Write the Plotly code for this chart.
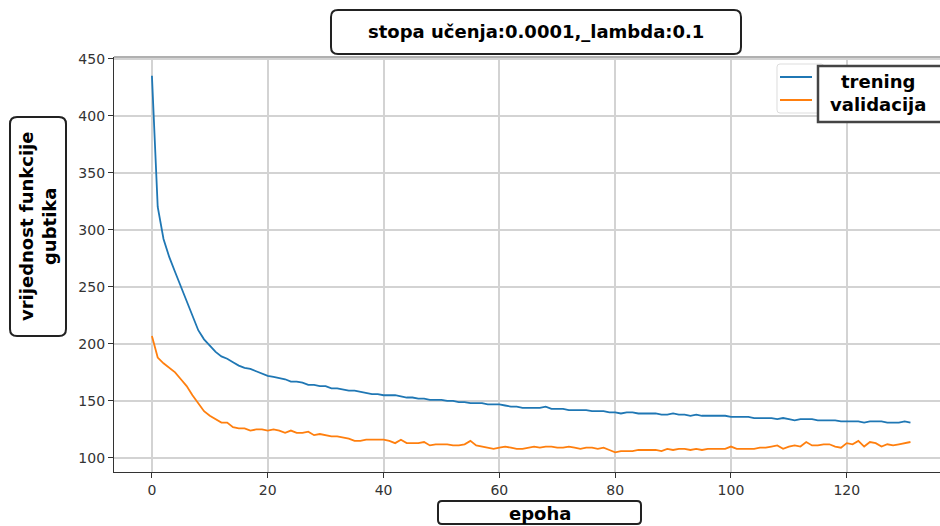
import plotly.graph_objects as go

# epohe 0..131
epoha = list(range(132))

trening = [
    435, 320, 292, 276, 263, 250, 237, 224, 212, 204,
    198, 193, 189, 187, 184, 181, 179, 178, 176, 174,
    172, 171, 170, 169, 167, 167, 166, 164, 164, 163,
    163, 161, 161, 160, 159, 159, 158, 157, 156, 156,
    155, 155, 155, 154, 153, 153, 152, 152, 151, 151,
    151, 150, 150, 149, 149, 148, 148, 148, 147, 147,
    147, 146, 145, 145, 144, 144, 144, 144, 145, 143,
    143, 143, 142, 142, 142, 142, 141, 141, 141, 140,
    140, 139, 140, 140, 139, 139, 139, 139, 138, 138,
    139, 138, 138, 137, 138, 137, 137, 137, 137, 137,
    136, 136, 136, 136, 135, 135, 135, 135, 134, 135,
    134, 133, 134, 134, 134, 133, 133, 133, 133, 132,
    132, 132, 132, 131, 132, 132, 132, 131, 131, 131,
    132, 131,
]

validacija = [
    207, 188, 183, 179, 175, 169, 163, 155, 148, 141,
    137, 134, 131, 131, 127, 126, 126, 124, 125, 125,
    124, 125, 124, 122, 124, 122, 122, 123, 120, 121,
    120, 119, 119, 118, 117, 115, 115, 116, 116, 116,
    116, 115, 113, 116, 113, 113, 113, 114, 111, 112,
    112, 112, 111, 111, 112, 115, 111, 110, 109, 108,
    109, 110, 109, 108, 108, 109, 110, 109, 110, 110,
    109, 109, 110, 109, 108, 109, 109, 108, 109, 107,
    105, 106, 106, 106, 107, 107, 107, 107, 106, 108,
    107, 108, 108, 107, 108, 107, 108, 108, 108, 108,
    110, 108, 108, 108, 108, 109, 109, 110, 111, 108,
    110, 111, 110, 114, 111, 111, 112, 112, 110, 109,
    113, 112, 115, 110, 114, 113, 110, 112, 111, 112,
    113, 114,
]

x_ticks = [0, 20, 40, 60, 80, 100, 120]
y_ticks = [100, 150, 200, 250, 300, 350, 400, 450]

naslov = "stopa učenja:0.0001,_lambda:0.1"
x_naziv = "epoha"
y_naziv = "vrijednost funkcije<br>gubtika"

W, H = 940, 526
L, R, T, B = 114, 0, 57, 54
PW, PH = W - L - R, H - T - B


def px(x):
    return (x - L) / PW


def py(y):
    return (H - B - y) / PH


def rrect(x0, y0, x1, y1, r):
    pts = [
        ("M", x0 + r, y0), ("L", x1 - r, y0), ("Q", x1, y0, x1, y0 + r),
        ("L", x1, y1 - r), ("Q", x1, y1, x1 - r, y1), ("L", x0 + r, y1),
        ("Q", x0, y1, x0, y1 - r), ("L", x0, y0 + r), ("Q", x0, y0, x0 + r, y0),
    ]
    out = []
    for p in pts:
        coords = []
        for i in range(1, len(p), 2):
            coords.append(f"{px(p[i]):.5f},{py(p[i + 1]):.5f}")
        out.append(p[0] + " " + " ".join(coords))
    return " ".join(out) + " Z"


fig = go.Figure()
fig.add_trace(go.Scatter(x=epoha, y=trening, mode="lines", name="trening",
                         line=dict(color="#1f77b4", width=1.8)))
fig.add_trace(go.Scatter(x=epoha, y=validacija, mode="lines", name="validacija",
                         line=dict(color="#ff7f0e", width=1.8)))

shapes = [
    # gornji rub
    dict(type="line", xref="paper", yref="paper", x0=0, x1=1, y0=1, y1=1,
         line=dict(color="#b0b0b0", width=2)),
    # okviri
    dict(type="path", xref="paper", yref="paper", path=rrect(331, 10, 741, 54, 7),
         fillcolor="white", line=dict(color="#222", width=2)),
    dict(type="path", xref="paper", yref="paper", path=rrect(10, 117, 66, 336, 7),
         fillcolor="white", line=dict(color="#222", width=2)),
    dict(type="path", xref="paper", yref="paper", path=rrect(438, 501, 641, 524, 4),
         fillcolor="white", line=dict(color="#222", width=2)),
    # legenda
    dict(type="path", xref="paper", yref="paper", path=rrect(777, 64, 824, 113, 3),
         fillcolor="rgba(255,255,255,0.9)", line=dict(color="#dddddd", width=1)),
    dict(type="line", xref="paper", yref="paper", x0=px(780), x1=px(812), y0=py(77), y1=py(77),
         line=dict(color="#1f77b4", width=2)),
    dict(type="line", xref="paper", yref="paper", x0=px(780), x1=px(812), y0=py(100), y1=py(100),
         line=dict(color="#ff7f0e", width=2)),
    dict(type="rect", xref="paper", yref="paper", x0=px(818), x1=px(946), y0=py(66), y1=py(122),
         fillcolor="white", line=dict(color="#444", width=2.5)),
]

bold = dict(family="DejaVu Sans, sans-serif", color="black")
ann = dict(xref="paper", yref="paper", showarrow=False, xanchor="center", yanchor="middle")
annotations = [
    dict(text="<b>" + naslov + "</b>", x=px(536), y=py(32), font=dict(size=18, **bold), **ann),
    dict(text="<b>" + y_naziv + "</b>", x=px(38), y=py(227), textangle=-90,
         font=dict(size=18, **bold), **ann),
    dict(text="<b>" + x_naziv + "</b>", x=px(540), y=py(513), font=dict(size=18, **bold), **ann),
    dict(text="<b>trening<br>validacija</b>", x=px(878), y=py(93), align="center",
         font=dict(size=18, **bold), **ann),
]

tick_font = dict(family="DejaVu Sans", size=14, color="#333")

fig.update_layout(
    width=W, height=H,
    margin=dict(l=L, r=R, t=T, b=B),
    paper_bgcolor="white", plot_bgcolor="white",
    showlegend=False,
    shapes=shapes,
    annotations=annotations,
    xaxis=dict(range=[-6.55, 136.1], tickvals=x_ticks, showgrid=True,
               gridcolor="#d3d3d3", gridwidth=1.5, zeroline=False,
               showline=True, linecolor="#333", linewidth=1.3,
               ticks="outside", ticklen=5, tickcolor="#333", tickfont=tick_font),
    yaxis=dict(range=[87.7, 451.5], tickvals=y_ticks, showgrid=True,
               gridcolor="#d3d3d3", gridwidth=1.5, zeroline=False,
               showline=True, linecolor="#333", linewidth=1.3,
               ticks="outside", ticklen=5, tickcolor="#333", tickfont=tick_font),
)

fig.write_html("out.html", config={"displayModeBar": False},
               post_script="document.body.style.margin='0';")
